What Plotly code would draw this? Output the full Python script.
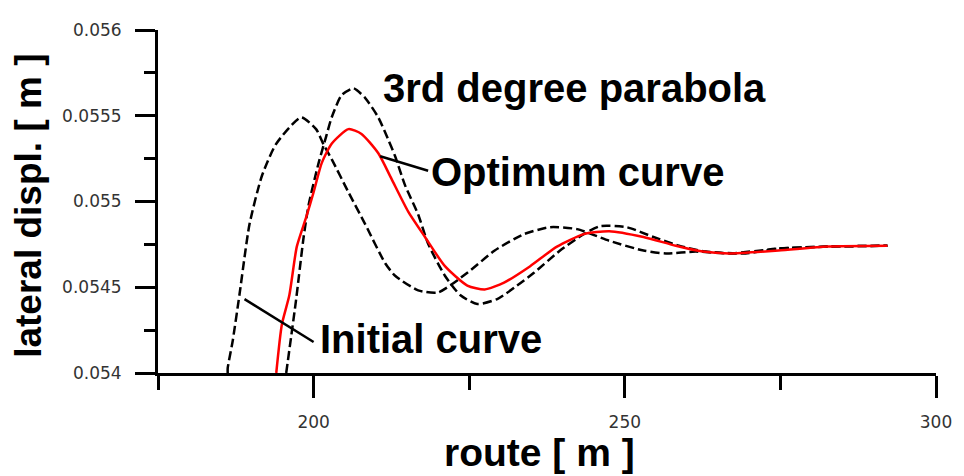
import plotly.graph_objects as go

# ---- data ----
initial_x = [186.2, 186.2, 187.0, 188.1, 189.7, 191.7, 194.0, 198.0, 200.4, 201.6, 202.9,
             205.6, 208.3, 211.5, 213.1, 216.8, 220.0, 224.7, 229.1, 233.8, 238.0, 242.3,
             247.5, 253.0, 256.6, 261.4, 266.7, 274.7, 282.6, 292.2]
initial_y = [0.05400, 0.054028, 0.054187, 0.054459, 0.054867, 0.055150, 0.055337, 0.055490,
             0.055422, 0.055332, 0.055247, 0.055054, 0.054867, 0.054640, 0.054567, 0.054482,
             0.054470, 0.054584, 0.054714, 0.054810, 0.054850, 0.054839, 0.054771, 0.054714,
             0.054697, 0.054708, 0.054697, 0.054725, 0.054737, 0.054742]

parabola_x = [195.6, 197.2, 198.4, 199.2, 200.8, 202.0, 202.9, 204.5, 206.4, 208.3, 210.4,
              212.0, 213.1, 214.7, 216.8, 218.4, 221.1, 223.6, 226.3, 229.5, 232.7, 235.4,
              239.6, 243.4, 246.0, 250.3, 254.6, 258.7, 263.0, 269.4, 274.7, 282.6, 292.2]
parabola_y = [0.05400, 0.054431, 0.054793, 0.054980, 0.055224, 0.055377, 0.055490, 0.055620,
              0.055660, 0.055603, 0.055490, 0.055360, 0.055264, 0.055094, 0.054924, 0.054754,
              0.054567, 0.054453, 0.054402, 0.054431, 0.054510, 0.054584, 0.054714, 0.054810,
              0.054856, 0.054850, 0.054793, 0.054742, 0.054708, 0.054697, 0.054725, 0.054737,
              0.054742]

optimum_x = [194.0, 194.9, 196.1, 197.3, 198.8, 200.0, 201.3, 202.9, 205.6, 207.7, 210.4,
             212.5, 215.2, 217.9, 221.1, 224.7, 227.5, 230.6, 234.8, 239.1, 243.4, 247.5,
             253.0, 258.2, 262.5, 266.7, 274.7, 282.6, 292.2]
optimum_y = [0.05400, 0.054283, 0.054453, 0.054737, 0.054907, 0.055054, 0.055224, 0.055337,
             0.055422, 0.055394, 0.055281, 0.055133, 0.054941, 0.054793, 0.054623, 0.054510,
             0.054487, 0.054527, 0.054623, 0.054737, 0.054810, 0.054827, 0.054793, 0.054742,
             0.054708, 0.054697, 0.054714, 0.054737, 0.054742]

y_tickvals = [0.054, 0.0545, 0.055, 0.0555, 0.056]
y_ticktext = ["0.054", "0.0545", "0.055", "0.0555", "0.056"]
x_tickvals = [200, 250, 300]
x_ticktext = ["200", "250", "300"]

labels = ["3rd degree parabola", "Optimum curve", "Initial curve"]
label_x = [210.8, 218.6, 200.7]
label_y = [0.055660, 0.055173, 0.054198]

# leader lines: (x0, y0, x1, y1)
leader_optimum = (210.7, 0.055264, 218.4, 0.055179)
leader_initial = (188.9, 0.054431, 200.0, 0.054181)

FONT = "Liberation Sans, Arial, sans-serif"
TICKFONT = "DejaVu Sans, sans-serif"
LINE = dict(shape="spline", smoothing=0.6)

fig = go.Figure()
fig.add_trace(go.Scatter(x=initial_x, y=initial_y, mode="lines",
                         line=dict(color="black", width=2.5, dash="9px,4px", **LINE),
                         name="Initial curve"))
fig.add_trace(go.Scatter(x=parabola_x, y=parabola_y, mode="lines",
                         line=dict(color="black", width=2.5, dash="9px,4px", **LINE),
                         name="3rd degree parabola"))
fig.add_trace(go.Scatter(x=optimum_x, y=optimum_y, mode="lines",
                         line=dict(color="#ff0000", width=2.5, **LINE),
                         name="Optimum curve"))

for (x0, y0, x1, y1) in (leader_optimum, leader_initial):
    fig.add_shape(type="line", x0=x0, y0=y0, x1=x1, y1=y1, xref="x", yref="y",
                  line=dict(color="black", width=2.5))

for t, lx, ly in zip(labels, label_x, label_y):
    fig.add_annotation(x=lx, y=ly, xref="x", yref="y", text="<b>%s</b>" % t,
                       showarrow=False, xanchor="left", yanchor="middle",
                       font=dict(family=FONT, size=40, color="black"))

fig.add_annotation(x=0.49, y=-0.232, xref="paper", yref="paper", text="<b>route [ m ]</b>",
                   showarrow=False, xanchor="center", yanchor="middle",
                   font=dict(family=FONT, size=39, color="black"))
fig.add_annotation(x=-0.166, y=0.487, xref="paper", yref="paper",
                   text="<b>lateral displ. [ m ]</b>", textangle=-90,
                   showarrow=False, xanchor="center", yanchor="middle",
                   font=dict(family=FONT, size=37, color="black"))

# page body has an 8px margin: size/margins chosen so the plot area lands at
# x 158..942, y 20..373 of the 964x476 window
fig.update_layout(
    width=956, height=468,
    margin=dict(l=150, r=22, t=12, b=103),
    paper_bgcolor="white", plot_bgcolor="white",
    showlegend=False,
    xaxis=dict(range=[175, 300], tickvals=x_tickvals, ticktext=x_ticktext,
               showgrid=False, zeroline=False, showline=True, linecolor="black",
               linewidth=3, ticks="outside", ticklen=22, tickwidth=3, tickcolor="black",
               ticklabelstandoff=10,
               tickfont=dict(family=TICKFONT, size=17, color="#333"),
               minor=dict(tickvals=[175, 225, 275], ticks="outside", ticklen=14,
                          tickwidth=3, tickcolor="black", showgrid=False)),
    yaxis=dict(range=[0.054, 0.056], tickvals=y_tickvals, ticktext=y_ticktext,
               showgrid=False, zeroline=False, showline=True, linecolor="black",
               linewidth=3, ticks="outside", ticklen=20, tickwidth=3, tickcolor="black",
               ticklabelstandoff=10,
               tickfont=dict(family=TICKFONT, size=17, color="#333"),
               minor=dict(tickvals=[0.05425, 0.05475, 0.05525, 0.05575], ticks="outside",
                          ticklen=11, tickwidth=3, tickcolor="black", showgrid=False)),
)

fig.write_html("out.html")
